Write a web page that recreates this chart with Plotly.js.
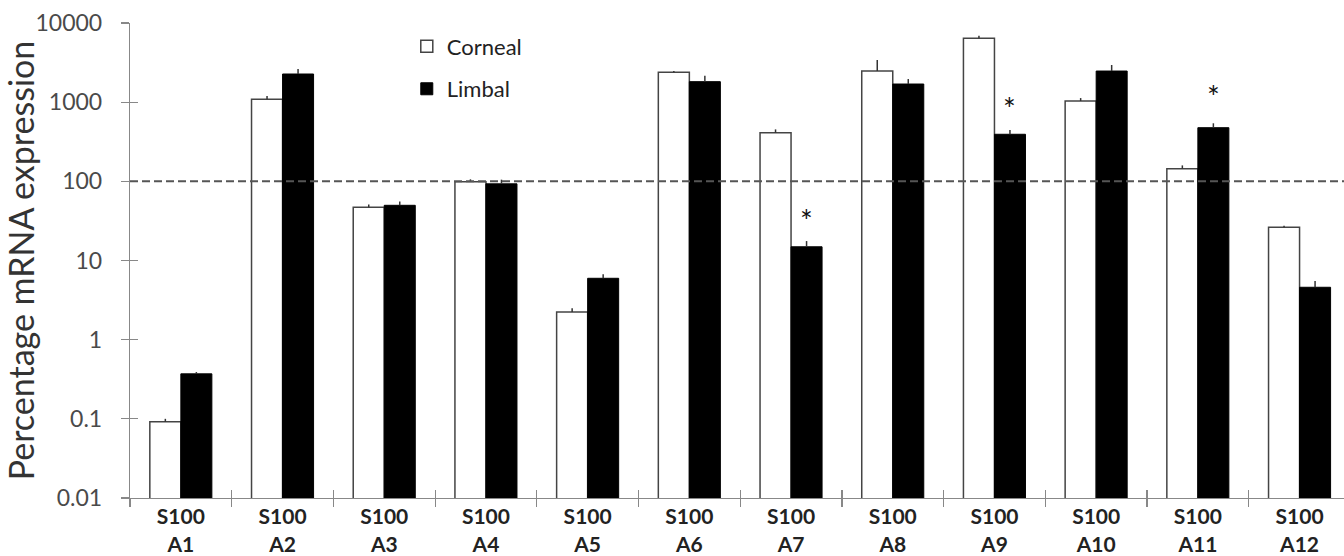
<!DOCTYPE html>
<html>
<head>
<meta charset="utf-8">
<script src="https://cdn.plot.ly/plotly-3.0.1.min.js"></script>
<style>html,body{margin:0;padding:0;background:#fff;overflow:hidden}</style>
</head>
<body>
<div id="chart" style="width:1344px;height:556px"></div>
<script>
const categories = ["S100<br>A1","S100<br>A2","S100<br>A3","S100<br>A4","S100<br>A5","S100<br>A6","S100<br>A7","S100<br>A8","S100<br>A9","S100<br>A10","S100<br>A11","S100<br>A12"];
const corneal = [0.092, 1087, 47, 99, 2.24, 2383, 411, 2473, 6400, 1035, 144.5, 26.3];
const cornealErr = [0.008, 110, 4, 7, 0.26, 90, 42, 930, 515, 92, 14.5, 1.2];
const limbal = [0.37, 2268, 49.8, 93, 5.96, 1815, 14.9, 1695, 393, 2473, 476, 4.59];
const limbalErr = [0.02, 360, 6, 12, 0.74, 335, 2.7, 265, 52, 477, 65, 0.9];
const starIdx = [6, 8, 10];
const starY = [30.6, 796, 1128];
const referenceLevel = 100;
const yTickVals = [0.01, 0.1, 1, 10, 100, 1000, 10000];
const yTickText = ['0.01', '0.1', '1', '10', '100', '1000', '10000'];

const zeros = corneal.map(() => 0);
const font = "Lato, 'Open Sans', sans-serif";
const xRange = [-0.5, 11.437];
const boundaries = categories.slice(1).map((c, i) => i + 0.5);

const traces = [
  {type:'bar', name:'Corneal', x:categories, y:corneal, legendgroup:'c',
   marker:{color:'#ffffff', line:{color:'#444', width:1.5}},
   error_y:{type:'data', symmetric:false, array:cornealErr, arrayminus:zeros, color:'#333', thickness:1.5, width:0}},
  {type:'bar', name:'Limbal', x:categories, y:limbal, legendgroup:'l',
   marker:{color:'#000000', line:{color:'#000', width:1}},
   error_y:{type:'data', symmetric:false, array:limbalErr, arrayminus:zeros, color:'#333', thickness:1.5, width:0}},
  {type:'scatter', x:[], y:[], xaxis:'x2', yaxis:'y2', showlegend:false, hoverinfo:'skip'}
];

const annotations = starIdx.map((k, i) => ({
  x: categories[k], y: Math.log10(starY[i]), xref:'x', yref:'y', text:'*', showarrow:false,
  xshift: 15.5, yshift: 2, font:{family:font, size:30, color:'#111'}
}));

const layout = {
  width:1344, height:556,
  margin:{l:130, r:0, t:23, b:58},
  paper_bgcolor:'#fff', plot_bgcolor:'#fff',
  showlegend:true,
  legend:{x:0.228, y:0.995, xanchor:'left', yanchor:'top', font:{family:font, size:22, color:'#222'},
          tracegroupgap:11, bgcolor:'rgba(0,0,0,0)', itemwidth:30},
  bargap:0.39, bargroupgap:0, barmode:'group',
  xaxis:{type:'category', range:xRange, showgrid:false, zeroline:false,
         showline:true, linecolor:'#888', linewidth:1.2,
         ticks:'outside', tickson:'boundaries', ticklen:8, tickcolor:'#888', tickwidth:1.2,
         tickfont:{family:font, size:21, color:'#222', weight:'bold'}},
  xaxis2:{overlaying:'x', anchor:'y2', side:'bottom', range:xRange, showgrid:false, zeroline:false,
          showline:false, ticks:'inside', ticklen:8, tickcolor:'#888', tickwidth:1.2,
          tickvals:boundaries, showticklabels:false},
  yaxis:{type:'log', range:[-2, 4], showgrid:false, zeroline:false,
         showline:true, linecolor:'#888', linewidth:1.2,
         ticks:'outside', ticklen:8, tickcolor:'#888', tickwidth:1.2,
         tickvals:yTickVals, ticktext:yTickText, ticklabelstandoff:14,
         tickfont:{family:font, size:23, color:'#4a4a4a'},
         title:{text:'Percentage mRNA expression', font:{family:font, size:34, color:'#333'}, standoff:0}},
  yaxis2:{type:'log', overlaying:'y', anchor:'x2', side:'left', range:[-2, 4], showgrid:false, zeroline:false,
          showline:false, ticks:'inside', ticklen:8, tickcolor:'#888', tickwidth:1.2,
          tickvals:yTickVals, showticklabels:false},
  shapes:[{type:'line', xref:'paper', x0:0, x1:1, yref:'y', y0:referenceLevel, y1:referenceLevel,
           line:{color:'#555', width:2, dash:'8px,4px'}}],
  annotations: annotations
};

Plotly.newPlot('chart', traces, layout, {displayModeBar:false, staticPlot:true});
</script>
</body>
</html>
